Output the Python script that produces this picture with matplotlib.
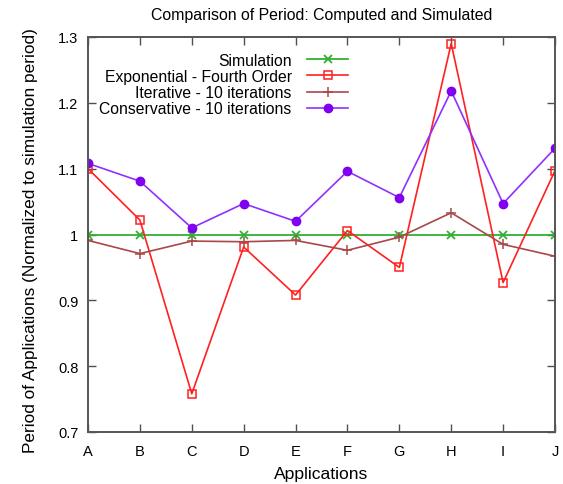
import matplotlib
matplotlib.use("Agg")
import matplotlib.pyplot as plt

plt.rcParams['font.family'] = ['Liberation Sans', 'DejaVu Sans']

categories = ["A", "B", "C", "D", "E", "F", "G", "H", "I", "J"]
simulation = [1.0, 1.0, 1.0, 1.0, 1.0, 1.0, 1.0, 1.0, 1.0, 1.0]
exponential = [1.100, 1.022, 0.758, 0.981, 0.908, 1.006, 0.950, 1.290, 0.927, 1.097]
iterative = [0.991, 0.971, 0.990, 0.989, 0.991, 0.976, 0.996, 1.033, 0.985, 0.967]
conservative = [1.108, 1.081, 1.010, 1.047, 1.020, 1.096, 1.056, 1.218, 1.047, 1.131]
yticks = [0.7, 0.8, 0.9, 1.0, 1.1, 1.2, 1.3]
ytick_labels = ["0.7", "0.8", "0.9", "1", "1.1", "1.2", "1.3"]

fig = plt.figure(figsize=(5.63, 4.85), dpi=100)
ax = fig.add_axes([88/563, 1-433/485, (555-88)/563, (433-38)/485])

x = list(range(len(categories)))
ax.plot(x, simulation, color='#33b033', lw=1.3, marker='x', ms=5.5, mew=1.3,
        label='Simulation')
ax.plot(x, exponential, color='#ff2020', lw=1.2, marker='s', ms=6.2, mfc='none',
        mew=1.1, label='Exponential - Fourth Order')
ax.plot(x, iterative, color='#a84848', lw=1.2, marker='+', ms=6.5, mew=1.1,
        label='Iterative - 10 iterations')
ax.plot(x, conservative, color='#9030ff', lw=1.2, marker='o', ms=6,
        mfc='#8000f0', mec='#8000f0', label='Conservative - 10 iterations')

ax.set_xlim(0, len(categories) - 1)
ax.set_ylim(0.7, 1.3)
ax.set_xticks(x)
ax.set_xticklabels(categories)
ax.set_yticks(yticks)
ax.set_yticklabels(ytick_labels)
ax.tick_params(direction='in', top=True, right=True, length=6, width=1.0,
               color='#505050', labelsize=10.5)
ax.tick_params(axis='y', pad=7)
ax.tick_params(axis='x', pad=8.5)
for s in ax.spines.values():
    s.set_color('#555555')
    s.set_linewidth(1.4)

ax.set_title('Comparison of Period: Computed and Simulated', fontsize=11.4, pad=13)
ax.set_xlabel('Applications', fontsize=12.6, labelpad=6)
ax.set_ylabel('Period of Applications (Normalized to simulation period)', fontsize=12.4)
ax.yaxis.set_label_coords(-0.108, 0.486)

leg = ax.legend(loc='upper right', bbox_to_anchor=(356/563, 1-46/485),
                bbox_transform=fig.transFigure, frameon=False, markerfirst=False,
                alignment='right', fontsize=11.3, handlelength=2.6,
                labelspacing=0.07, borderpad=0, handletextpad=1.0)

fig.savefig('out.png', dpi=100)
